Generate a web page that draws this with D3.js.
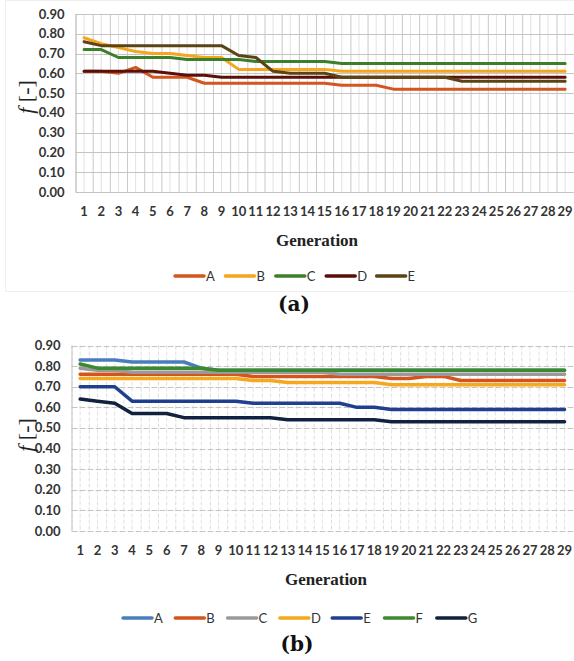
<!DOCTYPE html>
<html lang="en">
<head>
<meta charset="UTF-8">
<title>Fitness per generation</title>
<script src="https://d3js.org/d3.v7.min.js"></script>
<style>
  body { margin: 0; background: #fff; }
  svg { display: block; }
  .tick-label { font-family: Lato, "Open Sans", sans-serif; font-weight: 700; font-size: 13px; fill: #333; }
  .axis-title { font-family: "Liberation Serif", "Times New Roman", serif; font-weight: 700; font-size: 17px; fill: #222; }
  .y-title { font-family: "Liberation Serif", "Times New Roman", serif; font-size: 22px; fill: #222; }
  .legend-label { font-family: Lato, "Open Sans", sans-serif; font-size: 13px; fill: #333; }
  .panel-label { font-family: "DejaVu Serif", serif; font-weight: 700; font-size: 20px; fill: #111; }
</style>
</head>
<body>
<script>
// x categories (generation number) and y ticks
const generations = [1, 2, 3, 4, 5, 6, 7, 8, 9, 10, 11, 12, 13, 14, 15, 16, 17, 18, 19, 20, 21, 22, 23, 24, 25, 26, 27, 28, 29];
const yTicks = [0.00, 0.10, 0.20, 0.30, 0.40, 0.50, 0.60, 0.70, 0.80, 0.90];

// panel (a)
const seriesNamesA = ["A", "B", "C", "D", "E"];
const colorsA = ["#d2561e", "#f5a51e", "#3c7f2a", "#5a0f0b", "#5b4314"];
const a_A = [0.61, 0.61, 0.60, 0.63, 0.58, 0.58, 0.58, 0.55, 0.55, 0.55, 0.55, 0.55, 0.55, 0.55, 0.55, 0.54, 0.54, 0.54, 0.52, 0.52, 0.52, 0.52, 0.52, 0.52, 0.52, 0.52, 0.52, 0.52, 0.52];
const a_B = [0.78, 0.75, 0.73, 0.71, 0.70, 0.70, 0.69, 0.68, 0.68, 0.62, 0.62, 0.62, 0.62, 0.62, 0.62, 0.61, 0.61, 0.61, 0.61, 0.61, 0.61, 0.61, 0.61, 0.61, 0.61, 0.61, 0.61, 0.61, 0.61];
const a_C = [0.72, 0.72, 0.68, 0.68, 0.68, 0.68, 0.67, 0.67, 0.67, 0.67, 0.66, 0.66, 0.66, 0.66, 0.66, 0.65, 0.65, 0.65, 0.65, 0.65, 0.65, 0.65, 0.65, 0.65, 0.65, 0.65, 0.65, 0.65, 0.65];
const a_D = [0.61, 0.61, 0.61, 0.61, 0.61, 0.60, 0.59, 0.59, 0.58, 0.58, 0.58, 0.58, 0.58, 0.58, 0.58, 0.58, 0.58, 0.58, 0.58, 0.58, 0.58, 0.58, 0.58, 0.58, 0.58, 0.58, 0.58, 0.58, 0.58];
const a_E = [0.76, 0.74, 0.74, 0.74, 0.74, 0.74, 0.74, 0.74, 0.74, 0.69, 0.68, 0.61, 0.60, 0.60, 0.60, 0.58, 0.58, 0.58, 0.58, 0.58, 0.58, 0.58, 0.56, 0.56, 0.56, 0.56, 0.56, 0.56, 0.56];

// panel (b)
const seriesNamesB = ["A", "B", "C", "D", "E", "F", "G"];
const colorsB = ["#4a7ebb", "#d3541e", "#9a9a9a", "#f5a81c", "#213f8f", "#3b8a2e", "#10223f"];
const b_A = [0.83, 0.83, 0.83, 0.82, 0.82, 0.82, 0.82, 0.79, 0.78, 0.78, 0.78, 0.78, 0.78, 0.78, 0.78, 0.78, 0.78, 0.78, 0.78, 0.78, 0.78, 0.78, 0.78, 0.78, 0.78, 0.78, 0.78, 0.78, 0.78];
const b_B = [0.76, 0.76, 0.76, 0.76, 0.76, 0.76, 0.76, 0.76, 0.76, 0.76, 0.75, 0.75, 0.75, 0.75, 0.75, 0.75, 0.75, 0.75, 0.74, 0.74, 0.75, 0.75, 0.73, 0.73, 0.73, 0.73, 0.73, 0.73, 0.73];
const b_C = [0.79, 0.78, 0.78, 0.77, 0.77, 0.77, 0.77, 0.77, 0.77, 0.77, 0.77, 0.77, 0.77, 0.77, 0.77, 0.76, 0.76, 0.76, 0.76, 0.76, 0.76, 0.76, 0.76, 0.76, 0.76, 0.76, 0.76, 0.76, 0.76];
const b_D = [0.74, 0.74, 0.74, 0.74, 0.74, 0.74, 0.74, 0.74, 0.74, 0.74, 0.73, 0.73, 0.72, 0.72, 0.72, 0.72, 0.72, 0.72, 0.71, 0.71, 0.71, 0.71, 0.71, 0.71, 0.71, 0.71, 0.71, 0.71, 0.71];
const b_E = [0.70, 0.70, 0.70, 0.63, 0.63, 0.63, 0.63, 0.63, 0.63, 0.63, 0.62, 0.62, 0.62, 0.62, 0.62, 0.62, 0.60, 0.60, 0.59, 0.59, 0.59, 0.59, 0.59, 0.59, 0.59, 0.59, 0.59, 0.59, 0.59];
const b_F = [0.81, 0.79, 0.79, 0.79, 0.79, 0.79, 0.79, 0.79, 0.78, 0.78, 0.78, 0.78, 0.78, 0.78, 0.78, 0.78, 0.78, 0.78, 0.78, 0.78, 0.78, 0.78, 0.78, 0.78, 0.78, 0.78, 0.78, 0.78, 0.78];
const b_G = [0.64, 0.63, 0.62, 0.57, 0.57, 0.57, 0.55, 0.55, 0.55, 0.55, 0.55, 0.55, 0.54, 0.54, 0.54, 0.54, 0.54, 0.54, 0.53, 0.53, 0.53, 0.53, 0.53, 0.53, 0.53, 0.53, 0.53, 0.53, 0.53];

const width = 574, height = 661;

const svg = d3.select("body").append("svg")
    .attr("width", width)
    .attr("height", height);

// faint frame round panel (a)
svg.append("rect")
    .attr("x", 5.5).attr("y", 0.5)
    .attr("width", 570).attr("height", 291)
    .attr("fill", "none")
    .attr("stroke", "#efefef");

function drawPanel(opt) {
    const x = d3.scaleBand()
        .domain(generations)
        .range([opt.left, opt.left + opt.band * generations.length]);

    const y = d3.scaleLinear()
        .domain([0, 0.9])
        .range([opt.bottom, opt.top]);

    const g = svg.append("g");

    // vertical grid: minor at category centres, major at band edges
    g.append("g").selectAll("line")
        .data(generations)
        .join("line")
        .attr("x1", d => x(d) + x.bandwidth() / 2)
        .attr("x2", d => x(d) + x.bandwidth() / 2)
        .attr("y1", opt.top).attr("y2", opt.bottom)
        .attr("stroke", "#e2e2e2")
        .attr("stroke-dasharray", opt.dashed ? "4,2" : null);

    g.append("g").selectAll("line")
        .data(generations)
        .join("line")
        .attr("x1", d => x(d) + 0.5)
        .attr("x2", d => x(d) + 0.5)
        .attr("y1", opt.top).attr("y2", opt.bottom)
        .attr("stroke", opt.dashed ? "#dcdcdc" : "#c9c9c9")
        .attr("stroke-dasharray", opt.dashed ? "4,2" : null);

    // horizontal grid
    g.append("g").selectAll("line")
        .data(yTicks)
        .join("line")
        .attr("x1", opt.left).attr("x2", x.range()[1])
        .attr("y1", d => Math.round(y(d)) + 0.5)
        .attr("y2", d => Math.round(y(d)) + 0.5)
        .attr("stroke", "#c4c4c4")
        .attr("stroke-dasharray", opt.dashed ? "6,2" : null);

    // left edge of plot area
    g.append("line")
        .attr("x1", opt.left + 0.5).attr("x2", opt.left + 0.5)
        .attr("y1", opt.top).attr("y2", opt.bottom)
        .attr("stroke", "#c4c4c4");

    // y tick labels
    g.append("g").selectAll("text")
        .data(yTicks)
        .join("text")
        .attr("class", "tick-label")
        .attr("x", opt.left - 11)
        .attr("y", d => y(d))
        .attr("dy", "0.35em")
        .attr("text-anchor", "end")
        .text(d => d3.format(".2f")(d));

    // x tick labels
    g.append("g").selectAll("text")
        .data(generations)
        .join("text")
        .attr("class", "tick-label")
        .attr("x", d => x(d) + x.bandwidth() / 2)
        .attr("y", opt.bottom + 19)
        .attr("dy", "0.35em")
        .attr("text-anchor", "middle")
        .text(d => d);

    // lines
    const line = d3.line()
        .x((d, i) => x(generations[i]) + x.bandwidth() / 2)
        .y(d => y(d));

    g.append("g").selectAll("path")
        .data(opt.series)
        .join("path")
        .attr("d", d => line(d))
        .attr("fill", "none")
        .attr("stroke", (d, i) => opt.colors[i])
        .attr("stroke-width", opt.lineWidth)
        .attr("stroke-linejoin", "round")
        .attr("stroke-linecap", "round");

    // axis titles
    g.append("text")
        .attr("class", "axis-title")
        .attr("x", opt.titleX)
        .attr("y", opt.bottom + 48)
        .attr("dy", "0.35em")
        .attr("text-anchor", "middle")
        .text("Generation");

    const yt = g.append("text")
        .attr("class", "y-title")
        .attr("transform", `translate(${opt.yTitleX},${opt.yTitleY}) rotate(-90)`)
        .attr("text-anchor", "middle")
        .attr("dy", "0.35em");
    yt.append("tspan").attr("font-style", "italic").text("f");
    yt.append("tspan").text(" [-]");

    // legend
    const legend = g.append("g")
        .attr("transform", `translate(${opt.legendX},${opt.legendY})`);

    const item = legend.selectAll("g")
        .data(opt.names)
        .join("g")
        .attr("transform", (d, i) => `translate(${i * opt.legendStep},0)`);

    item.append("line")
        .attr("x1", 0).attr("x2", 29)
        .attr("stroke", (d, i) => opt.colors[i])
        .attr("stroke-width", 3.5)
        .attr("stroke-linecap", "round");

    item.append("text")
        .attr("class", "legend-label")
        .attr("x", 31)
        .attr("dy", "0.36em")
        .text(d => d);

    // panel label
    svg.append("text")
        .attr("class", "panel-label")
        .attr("x", opt.panelX)
        .attr("y", opt.panelY)
        .attr("dy", "0.35em")
        .attr("text-anchor", "middle")
        .text(opt.panel);
}

drawPanel({
    left: 75.5, band: 17.18, top: 14, bottom: 192,
    series: [a_A, a_B, a_C, a_D, a_E],
    names: seriesNamesA, colors: colorsA,
    lineWidth: 3,
    dashed: false,
    titleX: 317, yTitleX: 25, yTitleY: 97,
    legendX: 175, legendY: 276, legendStep: 50.4,
    panel: "(a)", panelX: 294, panelY: 304
});

drawPanel({
    left: 71.5, band: 17.3, top: 345.5, bottom: 531,
    series: [b_A, b_B, b_C, b_D, b_E, b_F, b_G],
    names: seriesNamesB, colors: colorsB,
    lineWidth: 3.5,
    dashed: true,
    titleX: 326, yTitleX: 25, yTitleY: 435,
    legendX: 123, legendY: 618, legendStep: 52.3,
    panel: "(b)", panelX: 297, panelY: 644
});
</script>
</body>
</html>
